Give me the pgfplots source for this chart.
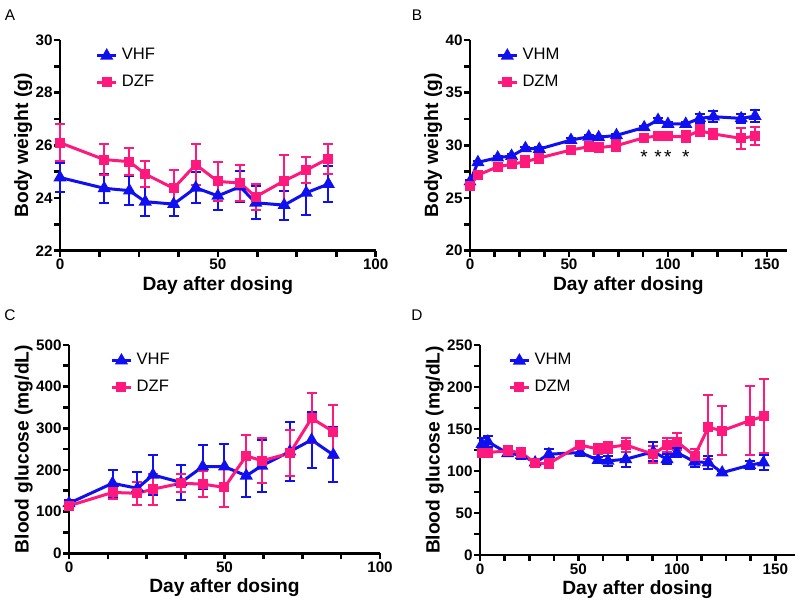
\documentclass[border=0pt]{standalone}
\usepackage{pgfplots}
\pgfplotsset{compat=1.18}
\usepackage{fontspec}
\setmainfont{Liberation Sans}
\definecolor{gpblue}{RGB}{15,15,240}
\definecolor{gppink}{RGB}{255,25,125}
\pgfplotsset{
  gp/.style={
    scale only axis,
    axis lines*=left,
    axis line style={line width=1.3pt,-},
    tick style={line width=1.3pt,black},
    tick align=outside,
    major tick length=3pt,
    minor tick length=3pt,
    tick label style={font=\bfseries\fontsize{7.6}{9}\selectfont},
    yticklabel style={inner sep=0.5pt},
    xticklabel style={inner sep=1pt},
    label style={font=\bfseries\fontsize{9.6}{11}\selectfont},
    xlabel shift=-1.25pt,
    ylabel shift=-2.25pt,
    /pgf/number format/assume math mode=true,
    xlabel={Day after dosing},
    minor x tick num=3,
    minor y tick num=1,
    legend style={draw=none,fill=none,font=\fontsize{8.3}{9.5}\selectfont,anchor=north west,row sep=2pt,inner sep=1pt},
    legend cell align=left,
    legend image code/.code={\draw[mark repeat=2,mark phase=2] plot coordinates {(0cm,0cm)(0.17cm,0cm)(0.34cm,0cm)};},
    clip=false,
  },
  vh/.style={color=gpblue, line width=1.5pt, mark=triangle*, mark size=2.3pt, mark options={solid},
    error bars/y dir=both, error bars/y explicit,
    error bars/error bar style={line width=1pt},
    error bars/error mark options={rotate=90,mark size=2.5pt,line width=1pt}},
  dz/.style={color=gppink, line width=1.5pt, mark=square*, mark size=1.75pt, mark options={solid},
    error bars/y dir=both, error bars/y explicit,
    error bars/error bar style={line width=1pt},
    error bars/error mark options={rotate=90,mark size=2.5pt,line width=1pt}},
}
\begin{document}
\begin{tikzpicture}
\useasboundingbox (0,0) rectangle (400pt,303pt);
\node[font=\fontsize{7.7}{9}\selectfont] at (5pt,295.5pt) {A};
\node[font=\fontsize{7.7}{9}\selectfont] at (208.5pt,295.5pt) {B};
\node[font=\fontsize{7.7}{9}\selectfont] at (5pt,145.5pt) {C};
\node[font=\fontsize{7.7}{9}\selectfont] at (208.5pt,145.5pt) {D};

% Panel A
\begin{axis}[gp, at={(30pt,177.65pt)}, anchor=south west,
  width=157.85pt, height=105.35pt,
  xmin=0, xmax=100, ymin=22, ymax=30,
  xtick={0,50,100}, ytick={22,24,26,28,30},
  ylabel={Body weight (g)},
  legend style={at={(0.105,0.99)}}]
\addplot[vh] table[x=x,y=y,y error=e] {
x y e
0 24.78 0.56
14 24.37 0.54
22 24.28 0.56
27 23.86 0.55
36 23.77 0.45
43 24.39 0.58
50 24.08 0.54
57 24.43 0.58
62 23.82 0.63
71 23.73 0.55
78 24.20 0.85
85 24.53 0.68
};
\addlegendentry{VHF}
\addplot[dz] table[x=x,y=y,y error=e] {
x y e
0 26.10 0.70
14 25.46 0.58
22 25.38 0.52
27 24.91 0.51
36 24.37 0.68
43 25.27 0.78
50 24.63 0.73
57 24.57 0.67
62 24.05 0.50
71 24.65 1.00
78 25.06 0.48
85 25.50 0.57
};
\addlegendentry{DZF}
\end{axis}

% Panel B
\begin{axis}[gp, at={(235pt,177.65pt)}, anchor=south west,
  width=158.35pt, height=105.35pt,
  xmin=0, xmax=160, ymin=20, ymax=40,
  xtick={0,50,100,150}, ytick={20,25,30,35,40},
  ylabel={Body weight (g)},
  legend style={at={(0.075,0.99)}}]
\addplot[vh] table[x=x,y=y,y error=e] {
x y e
0 26.55 0.15
4 28.39 0.15
14 28.83 0.15
21 28.99 0.15
28 29.72 0.15
35 29.65 0.15
51 30.50 0.15
60 30.82 0.15
65 30.76 0.15
74 30.95 0.15
88 31.70 0.15
95 32.40 0.15
100 32.03 0.15
109 32.03 0.15
116 32.56 0.45
123 32.72 0.50
137 32.56 0.45
144 32.78 0.60
};
\addlegendentry{VHM}
\addplot[dz] table[x=x,y=y,y error=e] {
x y e
0 26.17 0.30
4 27.18 0.30
14 27.97 0.30
21 28.20 0.30
28 28.45 0.50
35 28.80 0.50
51 29.56 0.30
60 29.87 0.45
65 29.78 0.45
74 29.97 0.50
88 30.73 0.30
95 30.89 0.35
100 30.85 0.35
109 30.82 0.50
116 31.39 0.50
123 31.08 0.50
137 30.66 1.00
144 30.89 0.87
};
\addlegendentry{DZM}
\node[font=\fontsize{9.5}{10}\selectfont, yshift=-2pt] at (axis cs:88,29.3) {*};
\node[font=\fontsize{9.5}{10}\selectfont, yshift=-2pt] at (axis cs:95,29.3) {*};
\node[font=\fontsize{9.5}{10}\selectfont, yshift=-2pt] at (axis cs:100,29.3) {*};
\node[font=\fontsize{9.5}{10}\selectfont, yshift=-2pt] at (axis cs:109,29.3) {*};
\end{axis}

% Panel C
\begin{axis}[gp, at={(34.5pt,26.35pt)}, anchor=south west,
  width=155.5pt, height=104.2pt,
  xmin=0, xmax=100, ymin=0, ymax=500,
  xtick={0,50,100}, ytick={0,100,200,300,400,500},
  ylabel={Blood glucose (mg/dL)},
  legend style={at={(0.125,0.99)}}]
\addplot[vh] table[x=x,y=y,y error=e] {
x y e
0 120 8
14 168 32
22 156 40
27 188 47
36 170 42
43 208 53
50 208 55
57 186 52
62 210 62
71 244 70
78 272 68
85 236 66
};
\addlegendentry{VHF}
\addplot[dz] table[x=x,y=y,y error=e] {
x y e
0 114 6
14 146 15
22 144 27
27 154 37
36 168 22
43 166 32
50 158 46
57 234 50
62 222 54
71 240 55
78 324 60
85 292 63
};
\addlegendentry{DZF}
\end{axis}

% Panel D
\begin{axis}[gp, at={(240pt,25.5pt)}, anchor=south west,
  width=157.5pt, height=105pt,
  xmin=0, xmax=160, ymin=0, ymax=250,
  xtick={0,50,100,150}, ytick={0,50,100,150,200,250},
  ylabel={Blood glucose (mg/dL)},
  legend style={at={(0.082,0.99)}}]
\addplot[vh] table[x=x,y=y,y error=e] {
x y e
1 132 7
4 135 7
14 121 3
21 119 5
28 110 3
35 120 6
51 122 4
60 113 4
65 112 6
74 114 9
88 123 11
95 114 6
100 122 5
109 111 6
116 110 8
123 98 2
137 107 5
144 110 9
};
\addlegendentry{VHM}
\addplot[dz] table[x=x,y=y,y error=e] {
x y e
1 122 4
4 122 4
14 124 6
21 122 5
28 109 4
35 109 6
51 131 5
60 126 6
65 128 7
74 131 8
88 120 10
95 131 8
100 135 10
109 118 8
116 152 38
123 148 29
137 160 41
144 165 44
};
\addlegendentry{DZM}
\end{axis}
\end{tikzpicture}
\end{document}
